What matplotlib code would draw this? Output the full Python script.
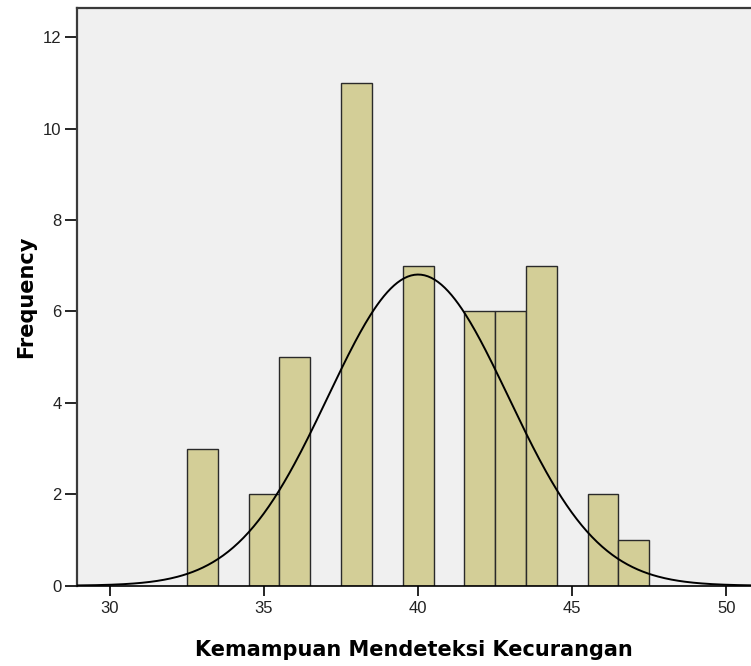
import numpy as np
import matplotlib.pyplot as plt

# data (bin width 1, centered on integers)
scores = [33, 35, 36, 38, 40, 42, 43, 44, 46, 47]
freq = [3, 2, 5, 11, 7, 6, 6, 7, 2, 1]
n_total = 50
curve_mean = 40.0
curve_sd = 2.93

plt.rcParams['font.family'] = ['Liberation Sans', 'DejaVu Sans']

fig = plt.figure(figsize=(7.51, 6.66), dpi=100)
ax = fig.add_axes([0.1025, 0.1206, 0.8975, 0.8674])
ax.set_facecolor('#f0f0f0')

ax.bar(scores, freq, width=1.0, color='#d3ce97', edgecolor='#2a2a2a',
       linewidth=1.0, zorder=2)

xs = np.linspace(28.9, 50.8, 400)
ys = n_total * 1.0 / (curve_sd * np.sqrt(2 * np.pi)) * np.exp(-0.5 * ((xs - curve_mean) / curve_sd) ** 2)
ax.plot(xs, ys, color='black', linewidth=1.4, zorder=3)

ax.set_xlim(28.93, 50.8)
ax.set_ylim(0, 12.64)
ax.set_xticks([30, 35, 40, 45, 50])
ax.set_yticks([0, 2, 4, 6, 8, 10, 12])

ax.spines['right'].set_visible(False)
ax.spines['left'].set_color('#3a3a3a')
ax.spines['top'].set_color('#3a3a3a')
ax.spines['left'].set_linewidth(1.6)
ax.spines['top'].set_linewidth(1.6)
ax.spines['bottom'].set_linewidth(1.2)
ax.spines['bottom'].set_zorder(4)

ax.tick_params(axis='x', direction='out', length=7, width=1.2, pad=4, labelsize=12, colors='black')
ax.tick_params(axis='y', direction='out', length=9, width=1.2, pad=2, labelsize=12, colors='black')
for lab in ax.get_xticklabels() + ax.get_yticklabels():
    lab.set_color('#222222')

ax.set_xlabel('Kemampuan Mendeteksi Kecurangan', fontsize=15, fontweight='bold',
              family='DejaVu Sans', labelpad=17)
ax.set_ylabel('Frequency', fontsize=15, fontweight='bold',
              family='DejaVu Sans', labelpad=5)

fig.savefig('out.png', dpi=100)
